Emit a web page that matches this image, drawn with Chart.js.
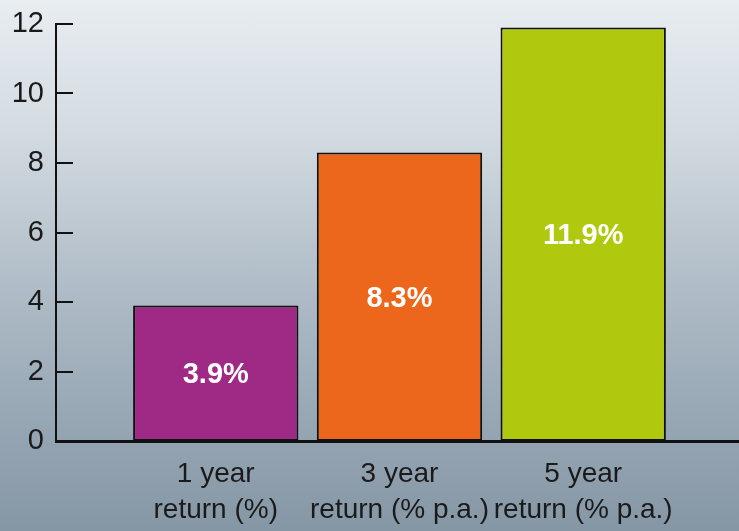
<!DOCTYPE html>
<html>
<head>
<meta charset="utf-8">
<script src="https://cdn.jsdelivr.net/npm/chart.js@4/dist/chart.umd.min.js"></script>
<style>
  html, body { margin: 0; padding: 0; }
  body {
    width: 739px; height: 531px; overflow: hidden;
    background: linear-gradient(to bottom, #e8edf1 0%, #d3dbe1 25%, #b4c0ca 50%, #9aaab7 75%, #8596a5 100%);
  }
  #wrap { position: relative; width: 739px; height: 531px; }
</style>
</head>
<body>
<div id="wrap"><canvas id="returnsChart" width="739" height="531"></canvas></div>
<script>
// values
const categories = [['1 year', 'return (%)'], ['3 year', 'return (% p.a.)'], ['5 year', 'return (% p.a.)']];
const returns = [3.9, 8.3, 11.9];
const barColors = ['#9e2a85', '#ec671b', '#b0c90e'];
const yTicks = [0, 2, 4, 6, 8, 10, 12];

const FONT = "'Liberation Sans', Arial, sans-serif";

// inward tick marks on the y axis
const innerTicks = {
    id: 'innerTicks',
    afterDraw(chart) {
        const y = chart.scales.y;
        const ctx = chart.ctx;
        ctx.save();
        ctx.strokeStyle = '#111';
        ctx.lineWidth = 2;
        y.ticks.forEach(t => {
            const py = Math.round(y.getPixelForValue(t.value));
            ctx.beginPath();
            ctx.moveTo(y.right, py);
            ctx.lineTo(y.right + 17, py);
            ctx.stroke();
        });
        ctx.restore();
    }
};

// value labels in the middle of each bar
const barLabels = {
    id: 'barLabels',
    afterDatasetsDraw(chart) {
        const ctx = chart.ctx;
        const meta = chart.getDatasetMeta(0);
        ctx.save();
        ctx.fillStyle = '#ffffff';
        ctx.font = 'bold 29px ' + FONT;
        ctx.textAlign = 'center';
        ctx.textBaseline = 'middle';
        meta.data.forEach((bar, i) => {
            ctx.fillText(returns[i].toFixed(1) + '%', bar.x, (bar.y + bar.base) / 2 + 2);
        });
        ctx.restore();
    }
};

const ctx = document.getElementById('returnsChart').getContext('2d');
new Chart(ctx, {
    type: 'bar',
    data: {
        datasets: [{
            data: returns.map((v, i) => ({ x: i + 1, y: v })),
            backgroundColor: barColors,
            borderColor: '#111',
            borderWidth: 2,
            borderSkipped: false,
            barPercentage: 0.9,
            categoryPercentage: 1
        }]
    },
    options: {
        responsive: false,
        animation: false,
        layout: { padding: { top: 24, left: 0, right: 0, bottom: 0 } },
        plugins: {
            legend: { display: false },
            tooltip: { enabled: false }
        },
        scales: {
            x: {
                type: 'linear',
                offset: false,
                min: 0.1304,
                max: 3.848,
                grid: { display: false, drawTicks: false },
                border: { display: true, color: '#111', width: 3 },
                afterBuildTicks: scale => {
                    scale.ticks = categories.map((c, i) => ({ value: i + 1 }));
                },
                afterFit: scale => {
                    scale.height = 90;
                    scale.paddingLeft = 0;
                    scale.paddingRight = 0;
                },
                ticks: {
                    color: '#1a1a1a',
                    font: { family: FONT, size: 28, lineHeight: 1.3 },
                    padding: 15,
                    maxRotation: 0,
                    autoSkip: false,
                    callback: v => categories[v - 1]
                }
            },
            y: {
                min: 0,
                max: 12,
                grid: { display: false, drawTicks: false },
                border: { display: true, color: '#111', width: 2 },
                afterBuildTicks: scale => {
                    scale.ticks = yTicks.map(v => ({ value: v }));
                },
                afterFit: scale => {
                    scale.width = 56;
                    scale.paddingTop = 0;
                    scale.paddingBottom = 0;
                },
                ticks: {
                    color: '#1a1a1a',
                    font: { family: FONT, size: 29 },
                    padding: 12
                }
            }
        }
    },
    plugins: [innerTicks, barLabels]
});
</script>
</body>
</html>
